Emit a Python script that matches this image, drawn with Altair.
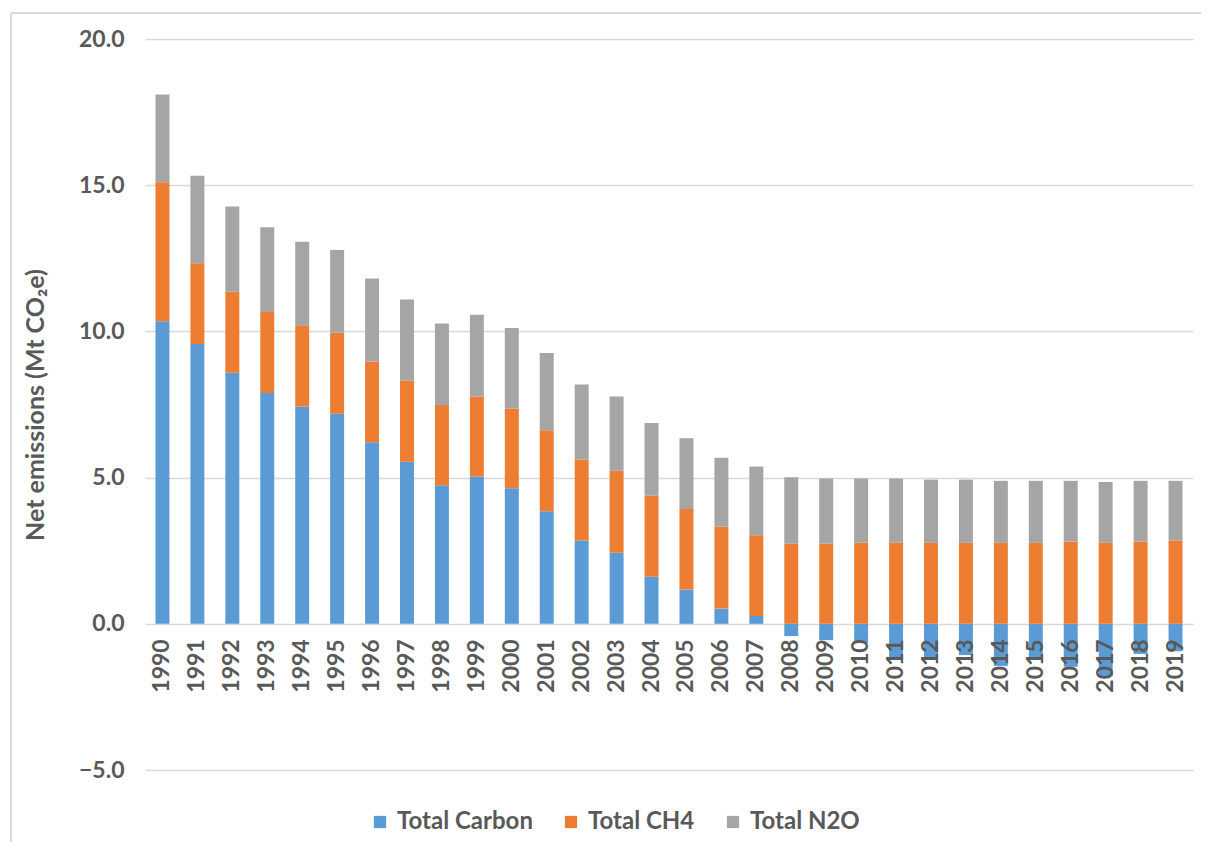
import altair as alt
import pandas as pd

years = [str(y) for y in range(1990, 2020)]
series_names = ["Total Carbon", "Total CH4", "Total N2O"]
colors = ["#5B9BD5", "#ED7D31", "#A5A5A5"]

total_carbon = [10.35, 9.57, 8.59, 7.89, 7.43, 7.18, 6.21, 5.54, 4.74, 5.04,
                4.64, 3.85, 2.85, 2.43, 1.61, 1.17, 0.52, 0.27, -0.42, -0.56,
                -0.65, -1.24, -1.15, -1.07, -1.44, -1.15, -1.47, -1.78, -1.03, -0.94]
total_ch4 = [4.75, 2.76, 2.77, 2.77, 2.78, 2.77, 2.76, 2.77, 2.74, 2.73,
             2.72, 2.77, 2.76, 2.80, 2.77, 2.76, 2.80, 2.76, 2.74, 2.74,
             2.77, 2.77, 2.77, 2.77, 2.77, 2.77, 2.81, 2.77, 2.81, 2.85]
total_n2o = [3.00, 2.99, 2.91, 2.90, 2.86, 2.83, 2.84, 2.78, 2.79, 2.80,
             2.76, 2.64, 2.57, 2.54, 2.49, 2.42, 2.36, 2.35, 2.27, 2.23,
             2.20, 2.20, 2.16, 2.16, 2.12, 2.12, 2.08, 2.08, 2.08, 2.04]

rows = []
for i, y in enumerate(years):
    for k, (name, vals) in enumerate(zip(series_names, [total_carbon, total_ch4, total_n2o])):
        rows.append({"Year": y, "Series": name, "Value": vals[i], "order": k})
df = pd.DataFrame(rows)

FONT = "Lato"
TXT = "#595959"
W, H = 1048, 731

bars = alt.Chart(df).mark_bar().encode(
    x=alt.X("Year:N", sort=years,
            scale=alt.Scale(paddingInner=0.6, paddingOuter=0.3),
            axis=alt.Axis(title=None, labelAngle=-90, labelAlign="right",
                          labelBaseline="middle", labelPadding=15,
                          ticks=False, domain=False, offset=-H / 5, zindex=2,
                          labelFont=FONT, labelFontSize=23, labelFontWeight="bold",
                          labelColor=TXT)),
    y=alt.Y("Value:Q", stack="zero",
            scale=alt.Scale(domain=[-5, 20], nice=False),
            axis=alt.Axis(title="Net emissions (Mt CO₂e)", values=[-5, 0, 5, 10, 15, 20],
                          format=".1f", ticks=False, domain=False,
                          gridColor="#D9D9D9", gridWidth=1.5,
                          labelPadding=21, labelFont=FONT, labelFontSize=23,
                          labelFontWeight="bold", labelColor=TXT,
                          titleFont=FONT, titleFontSize=25, titleFontWeight="bold",
                          titleColor=TXT, titleX=-110, titleY=H / 2,
                          titleAngle=-90, titleAlign="center", titleBaseline="middle")),
    color=alt.Color("Series:N", sort=series_names,
                    scale=alt.Scale(domain=series_names, range=colors),
                    legend=alt.Legend(title=None, orient="none", direction="horizontal",
                                      legendX=223, legendY=771,
                                      symbolType="square", symbolSize=150,
                                      symbolStrokeWidth=0, columnPadding=26,
                                      labelFont=FONT, labelFontSize=24,
                                      labelFontWeight="bold", labelColor=TXT,
                                      labelOffset=5)),
    order=alt.Order("order:Q"),
)

border_v = alt.Chart(df).mark_rule(color="#D9D9D9", strokeWidth=1.5, clip=False).encode(
    x=alt.value(-134), y=alt.value(-26), y2=alt.value(H + 72))
border_h = alt.Chart(df).mark_rule(color="#D9D9D9", strokeWidth=1.5, clip=False).encode(
    x=alt.value(-134), x2=alt.value(W + 8), y=alt.value(-26))

chart = alt.layer(border_v, border_h, bars).properties(
    width=W, height=H,
    autosize=alt.AutoSizeParams(type="none"),
    padding={"left": 137, "top": 31, "right": 8, "bottom": 72},
).configure_view(stroke=None)

chart.save("out.html", embed_options={"renderer": "svg", "actions": False})
